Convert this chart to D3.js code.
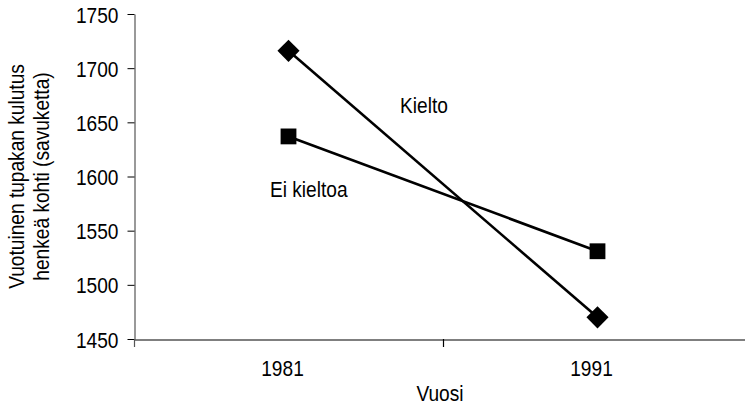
<!DOCTYPE html>
<html>
<head>
<meta charset="utf-8">
<script src="https://cdn.jsdelivr.net/npm/d3@7"></script>
<style>
  html, body { margin: 0; padding: 0; background: #fff; }
  svg { display: block; }
  text { font-family: "Liberation Sans Narrow", "Arial Narrow", "Liberation Sans", Arial, sans-serif; fill: #000; }
</style>
</head>
<body>
<svg id="chart" width="745" height="406"></svg>
<script>
// ---- Data ----
const years = ["1981", "1991"];
const kieltoValues = [1716, 1470];     // Kielto (diamond)
const eiKieltoaValues = [1637, 1531];  // Ei kieltoa (square)
const yTicks = [1450, 1500, 1550, 1600, 1650, 1700, 1750];
const seriesNames = ["Kielto", "Ei kieltoa"];
const yTitleLines = ["Vuotuinen tupakan kulutus", "henkeä kohti (savuketta)"];
const xTitle = "Vuosi";

// ---- Layout ----
const plotLeft = 134, plotTop = 14, plotBottom = 339, plotRight = 752;
const fs = 22.5;
const narrow = 0.85; // emulate a condensed (Arial Narrow-like) face
const fontFam = '"Liberation Sans", Arial, sans-serif';

const svg = d3.select("#chart");

const x = d3.scaleBand().domain(years).range([plotLeft, plotRight]).padding(0);
const y = d3.scaleLinear().domain([1450, 1750]).range([plotBottom, plotTop]);
const cx = d => x(d) + x.bandwidth() / 2;

// Y axis
const yAxis = svg.append("g")
  .attr("transform", `translate(${plotLeft + 0.5},0)`)
  .call(d3.axisLeft(y).tickValues(yTicks).tickSize(7).tickSizeOuter(0).tickPadding(9).tickFormat(d3.format("d")));
yAxis.select(".domain").attr("stroke", "#555").attr("stroke-width", 1.2);
yAxis.selectAll(".tick line").attr("stroke", "#000");
yAxis.selectAll(".tick text")
  .attr("font-size", fs).attr("dy", "0.36em").style("font-family", fontFam)
  .attr("x", -16 / narrow)
  .attr("transform", `scale(${narrow},1)`);

// X axis
const xAxis = svg.append("g")
  .attr("transform", `translate(0,${plotBottom + 0.5})`)
  .call(d3.axisBottom(x).tickSize(0).tickSizeOuter(0).tickPadding(21));
xAxis.select(".domain").attr("stroke", "#000").attr("stroke-width", 1.2);
xAxis.selectAll(".tick text")
  .attr("font-size", fs).attr("dx", -6 / narrow).style("font-family", fontFam)
  .attr("transform", `scale(${narrow},1)`);

// Category boundary ticks
const boundaries = years.map(d => x(d)).concat([x(years[years.length - 1]) + x.bandwidth()]);
svg.append("g").selectAll("line").data(boundaries).join("line")
  .attr("x1", d => Math.round(d) + 0.5).attr("x2", d => Math.round(d) + 0.5)
  .attr("y1", plotBottom).attr("y2", plotBottom + 8)
  .attr("stroke", (d, i) => i === 0 ? "#555" : "#000").attr("stroke-width", 1.2);

// Lines
const lineGen = d3.line().x(d => cx(d.year)).y(d => y(d.value));
const kielto = years.map((yr, i) => ({ year: yr, value: kieltoValues[i] }));
const eiKieltoa = years.map((yr, i) => ({ year: yr, value: eiKieltoaValues[i] }));

svg.append("path").datum(eiKieltoa).attr("d", lineGen)
  .attr("fill", "none").attr("stroke", "#000").attr("stroke-width", 2.6);
svg.append("path").datum(kielto).attr("d", lineGen)
  .attr("fill", "none").attr("stroke", "#000").attr("stroke-width", 2.6);

// Markers
const sq = d3.symbol().type(d3.symbolSquare).size(250);
svg.append("g").selectAll("path").data(eiKieltoa).join("path")
  .attr("d", sq)
  .attr("transform", d => `translate(${cx(d.year)},${y(d.value)})`)
  .attr("fill", "#000");

const dia = d3.symbol().type(d3.symbolSquare).size(245);
svg.append("g").selectAll("path").data(kielto).join("path")
  .attr("d", dia)
  .attr("transform", d => `translate(${cx(d.year)},${y(d.value)}) rotate(45)`)
  .attr("fill", "#000");

// Helper for condensed text
function narrowText(tx, ty, str, anchor) {
  return svg.append("text")
    .attr("transform", `translate(${tx},${ty}) scale(${narrow},1)`)
    .attr("text-anchor", anchor || "start")
    .attr("font-size", fs).style("font-family", fontFam)
    .text(str);
}

// Series labels
narrowText(400, 113, seriesNames[0]);
narrowText(270, 197, seriesNames[1]);

// Axis titles
const midY = (plotTop + plotBottom) / 2;
const yTitle = svg.append("text")
  .attr("transform", `translate(0,${midY}) rotate(-90) scale(${narrow},1)`)
  .attr("text-anchor", "middle").attr("font-size", fs).style("font-family", fontFam);
yTitle.append("tspan").attr("x", 0).attr("y", 24).text(yTitleLines[0]);
yTitle.append("tspan").attr("x", 0).attr("y", 49).text(yTitleLines[1]);

narrowText(440, 401, xTitle, "middle");
</script>
</body>
</html>
